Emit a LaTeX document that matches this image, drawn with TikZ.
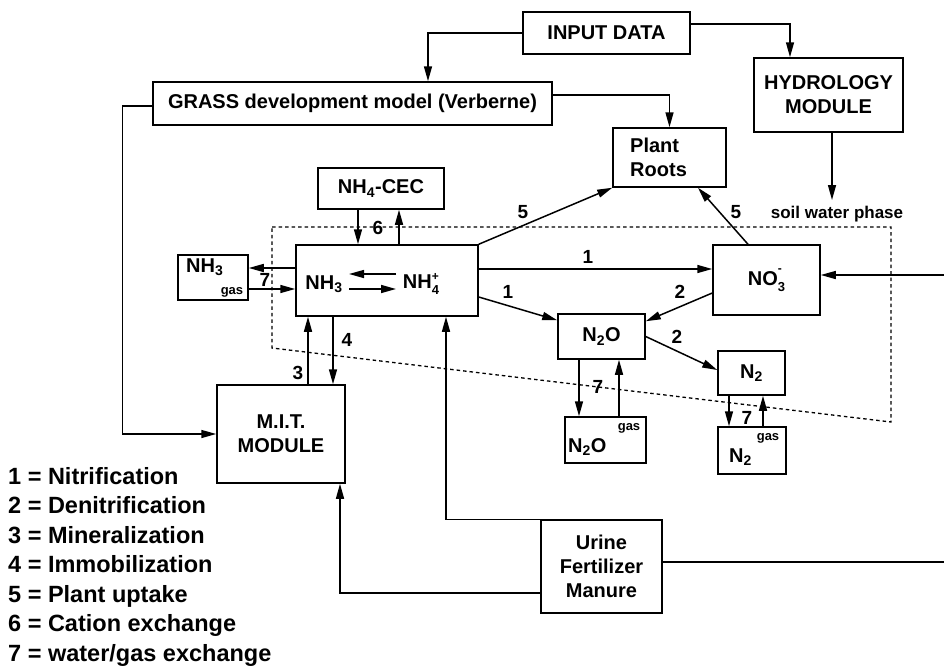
\documentclass[tikz,border=0pt]{standalone}
\usepackage{fontspec}
\setmainfont{Liberation Sans}
\usetikzlibrary{arrows.meta}
\newcommand\fsz[1]{\fontsize{#1}{1.2\dimexpr #1pt\relax}\selectfont\bfseries}
\begin{document}
\begin{tikzpicture}[x=1pt,y=-1pt,
  box/.style={draw, line width=1.5pt, inner sep=0pt, align=center, font=\fsz{20}},
  bx/.style 2 args={box, minimum width=#1, minimum height=#2},
  txt/.style={inner sep=0pt, align=center, font=\fsz{20}},
  ln/.style={line width=1.5pt},
  arr/.style={ln, -{Triangle[length=15pt,width=8pt]}},
  lbl/.style={font=\fsz{19}, inner sep=0pt},
  small/.style={font=\fsz{13}, inner sep=0pt},
  leg/.style={font=\fsz{23.5}, anchor=base west, inner sep=0pt},
  bnd/.style={line width=1.3pt, dash pattern=on 3.5pt off 3pt}]
\useasboundingbox (0,0) rectangle (944,667);

% boxes
\node[bx={167}{42}] (input) at (606.5,33) {INPUT DATA};
\node[bx={149}{74}] (hydro) at (828.5,95) {HYDROLOGY\\MODULE};
\node[bx={399}{43}] (grass) at (352.5,103.5) {GRASS development model (Verberne)};
\node[bx={113}{59}] (roots) at (669.5,157.5) {};
\node[txt, align=left, anchor=west] (rootst) at (630,157) {Plant\\Roots};
\node[bx={126}{41}] (cec) at (381,188.5) {NH\textsubscript{4}-CEC};
\node[bx={182}{71}] (main) at (387,280.5) {};
\node[bx={70}{45}] (nh3gas) at (213,277.5) {};
\node[bx={107}{70}] (no3) at (766.5,280) {NO\rlap{\raisebox{13pt}{\fsz{12}-}}\raisebox{-6pt}{\fsz{13}3}};
\node[bx={87}{45}] (n2o) at (601.5,336.5) {N\textsubscript{2}O};
\node[bx={67}{44}] (n2) at (751.5,373) {N\textsubscript{2}};
\node[bx={81}{46}] (n2ogas) at (605.5,440) {};
\node[bx={68}{47}] (n2gas) at (752,450.5) {};
\node[bx={128}{98}] (mit) at (281,434) {M.I.T.\\MODULE};
\node[bx={121}{93}] (urine) at (601.5,566.5) {Urine\\Fertilizer\\Manure};

% texts inside special boxes
\node[txt, anchor=base west] (nh3gt) at (186,272) {NH\textsubscript{3}};
\node[small] (nh3gg) at (232,292) {gas};
\node[txt, anchor=base west] (n2ogt) at (568,452) {N\textsubscript{2}O};
\node[small] (n2ogg) at (629,428) {gas};
\node[txt, anchor=base west] (n2gt) at (729,462) {N\textsubscript{2}};
\node[small] (n2gg) at (768,438) {gas};

% main box content
\node[txt] (nh3t) at (324,284) {NH\textsubscript{3}};
\node[txt] (nh4t) at (421,284) {NH\rlap{\raisebox{8.5pt}{\fsz{12}+}}\raisebox{-6pt}{\fsz{13}4}};
\coordinate (eqa) at (349,274);
\coordinate (eqb) at (396,274);
\coordinate (eqc) at (349,289);
\coordinate (eqd) at (396,289);
\draw[arr] (eqb) -- (eqa);
\draw[arr] (eqc) -- (eqd);

% boundary
\draw[bnd] (272,227) -- (891,227) -- (891,422) -- (272,348) -- cycle;

% connectors
\draw[arr] (input.west) -| ([xshift=75.5pt]grass.north);
\draw[arr] ([yshift=9pt]input.east) -| ([xshift=-38.5pt]hydro.north);
\draw[arr] ([yshift=8.5pt]grass.east) -| (roots.north);
\coordinate (soil) at (832,200);
\draw[arr] ([xshift=3.5pt]hydro.south) -- (soil);
\node[font=\fsz{17}, inner sep=0pt, anchor=base] (soiltxt) at (837,218) {soil water phase};
\draw[arr] ([yshift=-2.5pt]grass.west) -- ++(-30,0) |- (mit.west);

\coordinate (c6d) at ([xshift=-23pt]cec.south);
\coordinate (c6u) at ([xshift=18pt]cec.south);
\draw[arr] (c6d) -- (c6d |- main.north);
\draw[arr] (c6u |- main.north) -- (c6u);
\node[lbl] (l6) at (378,228) {6};

\coordinate (g7a) at ([yshift=12.5pt]main.west);
\coordinate (g7b) at ([yshift=-8.5pt]main.west);
\draw[arr] (g7a) -- (g7a -| nh3gas.east);
\draw[arr] (g7b -| nh3gas.east) -- (g7b);
\node[lbl] (l7a) at (265,280) {7};

\coordinate (m1) at ([yshift=11.5pt]main.east);
\draw[arr] (m1) -- (m1 -| no3.west);
\node[lbl] (l1a) at (588,257) {1};
\draw[arr] ([yshift=-16.5pt]main.east) -- ([yshift=-7pt]n2o.north west);
\node[lbl] (l1b) at (508,292) {1};
\draw[arr] ([yshift=-13pt]no3.west) -- ([yshift=-8pt]n2o.north east);
\node[lbl] (l2a) at (680,292) {2};
\draw[arr] (n2o.east) -- ([yshift=3pt]n2.west);
\node[lbl] (l2b) at (677,337) {2};

\coordinate (o7d) at ([xshift=-22.5pt]n2o.south);
\coordinate (o7u) at ([xshift=17.5pt]n2o.south);
\draw[arr] (o7d) -- (o7d |- n2ogas.north);
\draw[arr] (o7u |- n2ogas.north) -- (o7u);
\node[lbl] (l7b) at (598,387) {7};

\coordinate (d7d) at ([xshift=-22.5pt]n2.south);
\coordinate (d7u) at ([xshift=11.5pt]n2.south);
\draw[arr] (d7d) -- (d7d |- n2gas.north);
\draw[arr] (d7u |- n2gas.north) -- (d7u);
\node[lbl] (l7c) at (747,418) {7};

\draw[arr] (main.north east) -- (roots.south west);
\node[lbl] (l5a) at (523,212) {5};
\draw[arr] ([xshift=-18.5pt]no3.north) -- ([xshift=28.5pt]roots.south);
\node[lbl] (l5b) at (736,212) {5};

\coordinate (redge1) at (944,275);
\draw[arr] (redge1) -- ([yshift=5pt]no3.east);
\coordinate (redge2) at (944,562);
\draw[ln] ([yshift=4.5pt]urine.east) -- (redge2);

\coordinate (m3) at ([xshift=27pt]mit.north);
\draw[arr] (m3) -- (m3 |- main.south);
\coordinate (m4) at ([xshift=-54pt]main.south);
\draw[arr] (m4) -- (m4 |- mit.north);
\node[lbl] (l3) at (298,373) {3};
\node[lbl] (l4) at (347,340) {4};

\draw[arr] (urine.north west) -| ([xshift=59pt]main.south);
\draw[arr] ([yshift=-26.5pt]urine.west) -| ([xshift=59pt]mit.south);

% legend
\node[leg] (leg1) at (8,484) {1 = Nitrification};
\node[leg] (leg2) at (8,513.5) {2 = Denitrification};
\node[leg] (leg3) at (8,543) {3 = Mineralization};
\node[leg] (leg4) at (8,572.5) {4 = Immobilization};
\node[leg] (leg5) at (8,602) {5 = Plant uptake};
\node[leg] (leg6) at (8,631.5) {6 = Cation exchange};
\node[leg] (leg7) at (8,661) {7 = water/gas exchange};
\end{tikzpicture}
\end{document}
